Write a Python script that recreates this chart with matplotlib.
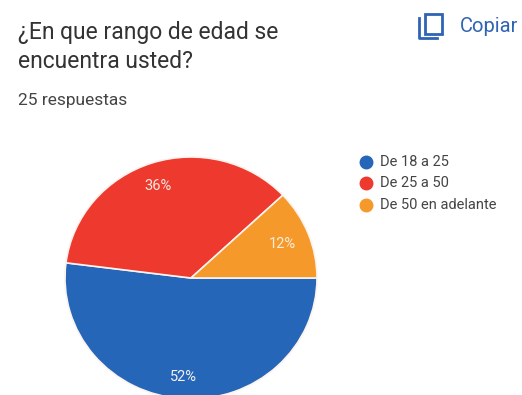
import matplotlib.pyplot as plt
from matplotlib.lines import Line2D
from matplotlib.patches import Rectangle

# answers to the age question
labels = ["De 18 a 25", "De 25 a 50", "De 50 en adelante"]
shares = [52, 36, 12]
colors = ["#2566b8", "#ee3a2e", "#f5992a"]
pct_labels = ["52%", "36%", "12%"]

W, H = 522, 395
plt.rcParams["font.family"] = ["Roboto", "DejaVu Sans"]

fig = plt.figure(figsize=(W / 100, H / 100), dpi=100, facecolor="white")

# pie, centre about (191, 278), slightly flatter than a true circle
rx, ry = 126, 121
pie_ax = fig.add_axes([(191 - rx) / W, 1 - (278 + ry) / H, 2 * rx / W, 2 * ry / H])
pie_ax.pie(
    shares,
    colors=colors,
    startangle=0,
    counterclock=False,
    radius=1,
    wedgeprops={"edgecolor": "#fbf3ee", "linewidth": 1.2},
)
pie_ax.set_aspect("auto")
pie_ax.set_xlim(-1, 1)
pie_ax.set_ylim(-1, 1)

# pixel-sized overlay so the header and legend can be placed directly
bg = fig.add_axes([0, 0, 1, 1])
bg.set_xlim(0, W)
bg.set_ylim(H, 0)
bg.axis("off")
bg.patch.set_alpha(0)

bg.text(18, 32, "¿En que rango de edad se", fontsize=16.5, color="#333333", va="center")
bg.text(18, 62, "encuentra usted?", fontsize=16.5, color="#333333", va="center")
bg.text(18, 100, "25 respuestas", fontsize=12.5, color="#444444", va="center")

# copy icon and link
bg.add_patch(Rectangle((425, 14), 17, 20, fill=False, ec="#2f64b5", lw=2))
bg.plot([419, 419, 437], [18, 38, 38], color="#2f64b5", lw=2)
bg.text(460, 26, "Copiar", fontsize=14.5, color="#2f64b5", va="center")

bg.text(183, 377, pct_labels[0], color="#f4f0f0", fontsize=10.5, ha="center", va="center")
bg.text(158, 186, pct_labels[1], color="#f8e8e0", fontsize=10.5, ha="center", va="center")
bg.text(282, 244, pct_labels[2], color="#fbeedd", fontsize=10.5, ha="center", va="center")

# legend entries
for y, label, color in zip([162, 183, 205], labels, colors):
    bg.add_line(Line2D([366], [y], marker="o", ms=9, color=color, mec=color))
    bg.text(380, y, label, fontsize=10.5, color="#444444", va="center")

fig.savefig("out.png", dpi=100)
